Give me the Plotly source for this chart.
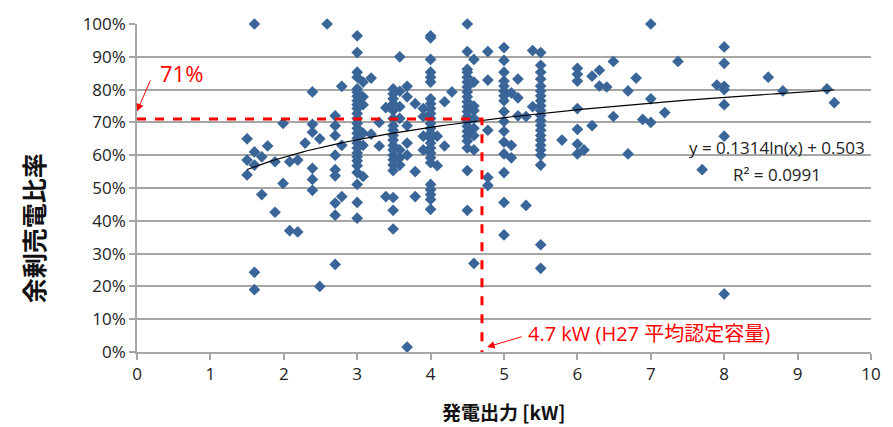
import numpy as np
import plotly.graph_objects as go

# Capacity columns (kW) and surplus-sale ratios (%)
cap_groups = [1.5, 1.6, 1.7, 1.78, 1.88, 1.99, 2.08, 2.19, 2.29, 2.39, 2.49, 2.59,
              2.7, 2.79, 3.0, 3.08, 3.19, 3.3, 3.39, 3.49, 3.58, 3.68, 3.79, 3.9,
              4.0, 4.09, 4.19, 4.29, 4.5, 4.59, 4.78, 5.0, 5.1, 5.19, 5.3, 5.39,
              5.5, 5.79, 6.0, 6.09, 6.2, 6.3, 6.4, 6.49, 6.69, 6.8, 6.89, 7.0,
              7.19, 7.37, 7.7, 7.9, 8.0, 8.6, 8.8, 9.4, 9.5]
ratio_groups = [
    [65, 58.5, 54],
    [100, 61, 57, 24.3, 19],
    [59.5, 48],
    [62.8],
    [58, 42.6],
    [69.7, 51.4],
    [58, 37],
    [58.5, 36.6],
    [63.7],
    [79.3, 69.4, 67, 56, 52.6, 49.3],
    [65, 20],
    [100],
    [72, 69, 66, 60, 55.6, 53.7, 45.4, 41.7, 26.7],
    [81, 63, 47.4],
    [96.4, 91.3, 85.3, 83.8, 80.2, 79.2, 78, 76.6, 75.4, 74.2, 72.7, 71.2, 69.7,
     68.2, 66.7, 65.2, 63.7, 62.2, 60.7, 59.5, 58.3, 56.8, 54.7, 51.1, 45.6, 40.8],
    [82.3, 77.8, 75.4, 66.7, 63, 53.5],
    [83.5, 66.4],
    [70, 62.8],
    [74.5, 47.4],
    [80.2, 78.7, 77.2, 75.7, 73.6, 71.2, 69, 67.6, 66, 64.6, 63, 61.6, 60, 58.6,
     57, 55.3, 47.1, 43.2, 37.5],
    [90, 79.5, 74.8, 71.2, 61.6, 59.2, 57],
    [81, 77.8, 69, 63.7, 60, 1.5],
    [75.7, 55, 47.4],
    [74.2, 71.8, 65.8, 61.6],
    [96.4, 95.8, 89.2, 85.3, 83.8, 82.3, 77.2, 75.7, 74.2, 72.7, 71.2, 69.7, 68.2,
     66.7, 65.2, 63.7, 62.2, 60.7, 59.2, 57.7, 51.1, 49.5, 48, 46.5, 43.5],
    [65.8, 56.8],
    [76.3, 62.8],
    [79.3],
    [100, 91.6, 86.2, 85.3, 83.8, 82.3, 80.8, 79.3, 77.8, 76.3, 74.8, 73.3, 71.8,
     70.3, 68.8, 67.3, 65.8, 64.3, 62.2, 55.3, 43.2],
    [89.2, 82.3, 75, 73.6, 71.2, 68.2, 66, 61.6, 27],
    [91.6, 82.9, 67.6, 53.2, 50.8],
    [92.8, 88.9, 85.3, 82.6, 81.1, 79.6, 78.1, 76.6, 73.3, 70.3, 67.3, 64, 60.4,
     54.7, 45.6, 35.7],
    [79, 63, 59.2],
    [83.2, 77.5, 72],
    [71.8, 44.7],
    [91.9, 74.8],
    [91.3, 87.4, 85.3, 83.2, 81.1, 79.6, 78.1, 76.6, 75.1, 73.6, 72.1, 70.6, 69.1,
     67.6, 66, 64.6, 63, 61.6, 60, 57, 32.7, 25.5],
    [64.6],
    [86.5, 84.7, 82.6, 74.2, 67.9, 63.4, 60.4],
    [61.6],
    [84.1, 69],
    [85.9, 81.1],
    [80.8],
    [88.6, 71.8],
    [79.6, 60.4],
    [83.5],
    [70.9],
    [100, 77.2, 70],
    [73],
    [88.6],
    [55.6],
    [81.4],
    [93, 88, 81, 80, 75.4, 65.8, 17.7],
    [83.8],
    [79.6],
    [80.2],
    [76],
]

# Trendline coefficients shown on the chart: y = a ln(x) + b
trend_a = 0.1314
trend_b = 0.503
trend_range = [1.5, 9.5]

avg_capacity = 4.7
avg_ratio = 0.71

x_ticks = list(range(0, 11))
y_ticks = [i / 10 for i in range(0, 11)]

xs, ys = [], []
for c, grp in zip(cap_groups, ratio_groups):
    for v in grp:
        xs.append(c)
        ys.append(v / 100)

tx = np.linspace(trend_range[0], trend_range[1], 200)
ty = trend_a * np.log(tx) + trend_b

FONT = "Open Sans, Noto Sans CJK JP, sans-serif"
JP = "Noto Sans CJK JP, sans-serif"
GRID = "#A6A6A6"

fig = go.Figure()
fig.add_trace(go.Scatter(x=xs, y=ys, mode="markers",
                         marker=dict(symbol="diamond", size=9, color="#3A6598",
                                     line=dict(width=0)),
                         cliponaxis=False, showlegend=False))
fig.add_trace(go.Scatter(x=tx, y=ty, mode="lines",
                         line=dict(color="black", width=1.2), showlegend=False))
fig.add_trace(go.Scatter(x=[0, avg_capacity, avg_capacity], y=[avg_ratio, avg_ratio, 0],
                         mode="lines", line=dict(color="#FF0000", width=3, dash="dash"),
                         showlegend=False, cliponaxis=False))

anns = [
    dict(x=0.6, y=0.85, text="71%", showarrow=False,
         font=dict(family=FONT, size=22, color="#FF0000")),
    dict(x=0.0, y=0.734, ax=0.19, ay=0.832, axref="x", ayref="y", xref="x", yref="y",
         text="", showarrow=True, arrowhead=2, arrowwidth=1, arrowcolor="#FF0000",
         arrowsize=1.5),
    dict(x=4.77, y=0.015, ax=5.26, ay=0.048, axref="x", ayref="y", xref="x", yref="y",
         text="", showarrow=True, arrowhead=2, arrowwidth=1, arrowcolor="#FF0000",
         arrowsize=1.5),
    dict(x=5.3, y=0.057, xanchor="left", text="4.7 kW (H27 平均認定容量)", showarrow=False,
         font=dict(family=FONT, size=20, color="#FF0000")),
    dict(x=8.72, y=0.622, text="y = 0.1314ln(x) + 0.503", showarrow=False,
         font=dict(family=FONT, size=17, color="#222")),
    dict(x=8.72, y=0.541, text="R² = 0.0991", showarrow=False,
         font=dict(family=FONT, size=17, color="#222")),
    dict(xref="paper", yref="paper", x=-0.1415, y=0.378, xanchor="center",
         yanchor="middle", text="<b>余剰売電比率</b>",
         textangle=-90, showarrow=False, font=dict(family=JP, size=25, color="#111")),
    dict(xref="paper", yref="paper", x=0.5, y=-0.18, xanchor="center", yanchor="middle",
         text="<b>発電出力 [kW]</b>",
         showarrow=False, font=dict(family=JP, size=19, color="#111")),
]

fig.update_layout(
    width=893, height=427,
    margin=dict(l=137, r=21, t=19, b=75),
    paper_bgcolor="white", plot_bgcolor="white",
    annotations=anns,
    xaxis=dict(range=[0, 10], tickvals=x_ticks, showgrid=False, zeroline=False,
               showline=True, linecolor=GRID, linewidth=1.5, ticks="outside",
               ticklen=6, tickcolor=GRID, tickwidth=1.5,
               tickfont=dict(family=FONT, size=17, color="#222")),
    yaxis=dict(range=[0, 1], tickvals=y_ticks, tickformat=".0%", showgrid=True,
               gridcolor=GRID, gridwidth=1.5, zeroline=False, showline=True,
               linecolor=GRID, linewidth=1.5, ticks="outside", ticklen=6,
               tickcolor=GRID, tickwidth=1.5,
               tickfont=dict(family=FONT, size=17, color="#222")),
)

fig.write_html("out.html")
